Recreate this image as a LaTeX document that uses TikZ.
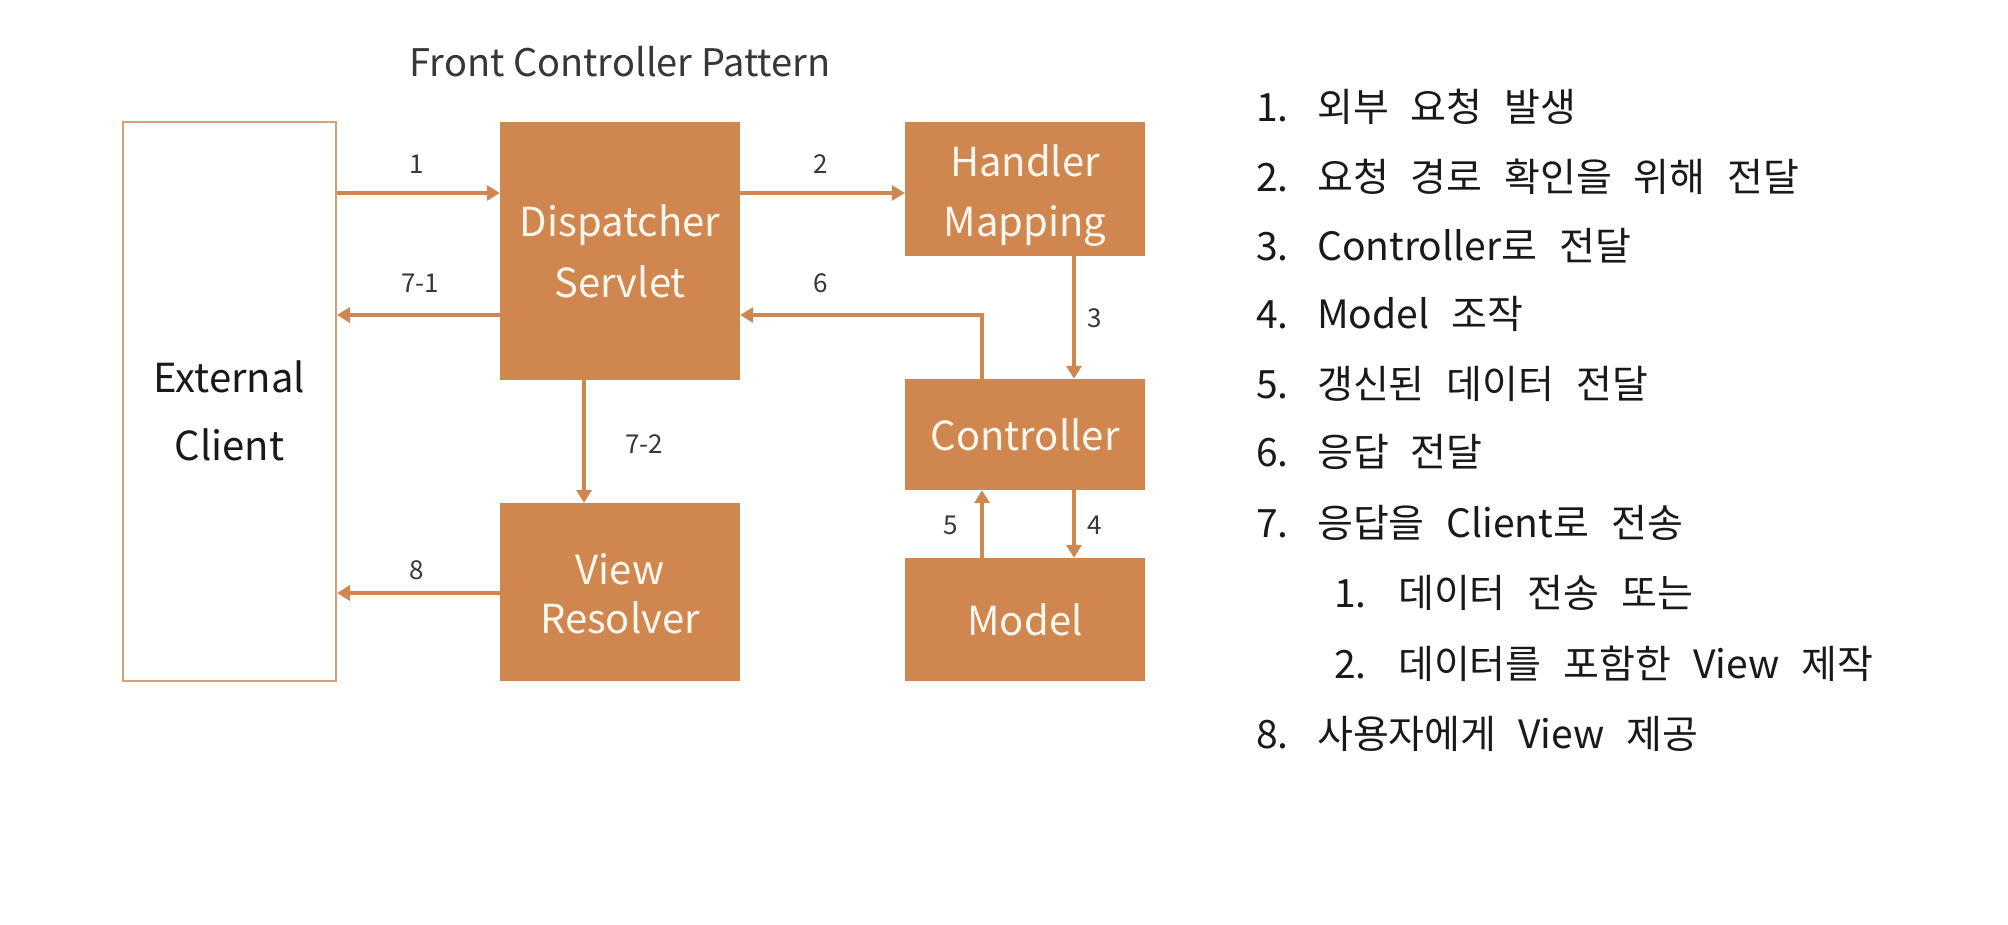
\documentclass[tikz,border=0pt]{standalone}
\usepackage{fontspec}
\setmainfont{Noto Sans CJK KR}
\newfontfamily\listfont[WordSpace=2.5]{Noto Sans CJK KR}
\usetikzlibrary{arrows.meta}
\definecolor{boxc}{RGB}{207,134,79}
\definecolor{boxtext}{RGB}{255,247,238}
\definecolor{lblc}{RGB}{55,55,55}
\definecolor{listc}{RGB}{25,25,25}
\begin{document}
\begin{tikzpicture}[x=1pt,y=-1pt,
  blk/.style={fill=boxc, draw=none, inner sep=0pt, minimum width=240pt},
  blktxt/.style={text=boxtext, font=\fontsize{40}{61}\selectfont, align=center, inner sep=0pt},
  numlbl/.style={text=lblc, font=\fontsize{26}{30}\selectfont, inner sep=0pt},
  arr/.style={draw=boxc, line width=4pt, -{Triangle[length=13pt,width=15pt]}},
  item/.style={anchor=base west, inner sep=0pt, text=listc, font=\listfont\fontsize{39}{44}\selectfont}]
\useasboundingbox[fill=white] (0,0) rectangle (2008,924);

\node[text=lblc, font=\fontsize{38}{44}\selectfont] (title) at (620,62) {Front Controller Pattern};

\node[draw=boxc!80, line width=2pt, minimum width=213pt, minimum height=559pt, inner sep=0pt] (ext) at (229.5,401.5) {};
\node[text=listc, align=center, inner sep=0pt, font=\fontsize{40}{68}\selectfont] (extt) at ([yshift=-9pt]ext.center) {External\\Client};

\node[blk, minimum height=258pt] (disp) at (620,251) {};
\node[blktxt] (dispt) at (disp.center) {Dispatcher\\Servlet};
\node[blk, minimum height=134pt] (hm) at (1025,189) {};
\node[blktxt, font=\fontsize{40}{60}\selectfont] (hmt) at ([yshift=-7pt]hm.center) {Handler\\Mapping};
\node[blk, minimum height=111pt] (ctrl) at (1025,434.5) {};
\node[blktxt] (ctrlt) at (ctrl.center) {Controller};
\node[blk, minimum height=123pt] (model) at (1025,619.5) {};
\node[blktxt] (modelt) at (model.center) {Model};
\node[blk, minimum height=178pt] (view) at (620,592) {};
\node[blktxt, font=\fontsize{40}{49}\selectfont] (viewt) at ([yshift=-2pt]view.center) {View\\Resolver};

\draw[arr] (ext.east |- 0,193) -- (disp.west |- 0,193);
\node[numlbl] (l1) at (417,164) {1};
\draw[arr] (disp.west |- 0,315) -- (ext.east |- 0,315);
\node[numlbl] (l71) at (420,283) {7-1};
\draw[arr] (disp.east |- 0,193) -- (hm.west |- 0,193);
\node[numlbl] (l2) at (821,164) {2};
\draw[arr] (ctrl.north -| 982,0) |- (disp.east |- 0,315);
\node[numlbl] (l6) at (821,283) {6};
\draw[arr] (hm.south -| 1074,0) -- (ctrl.north -| 1074,0);
\node[numlbl] (l3) at (1095,318) {3};
\draw[arr] (disp.south -| 584,0) -- (view.north -| 584,0);
\node[numlbl] (l72) at (644,444) {7-2};
\draw[arr] (view.west |- 0,593) -- (ext.east |- 0,593);
\node[numlbl] (l8) at (417,570) {8};
\draw[arr] (model.north -| 982,0) -- (ctrl.south -| 982,0);
\node[numlbl] (l5) at (951,525) {5};
\draw[arr] (ctrl.south -| 1074,0) -- (model.north -| 1074,0);
\node[numlbl] (l4) at (1095,525) {4};

% list
\node[item] (n1) at (1256,121) {1.};
\node[item] (t1) at (1317,121) {외부 요청 발생};
\node[item] (n2) at (1256,191) {2.};
\node[item] (t2) at (1317,191) {요청 경로 확인을 위해 전달};
\node[item] (n3) at (1256,260) {3.};
\node[item] (t3) at (1317,260) {Controller로 전달};
\node[item] (n4) at (1256,328) {4.};
\node[item] (t4) at (1317,328) {Model 조작};
\node[item] (n5) at (1256,398) {5.};
\node[item] (t5) at (1317,398) {갱신된 데이터 전달};
\node[item] (n6) at (1256,466) {6.};
\node[item] (t6) at (1317,466) {응답 전달};
\node[item] (n7) at (1256,537) {7.};
\node[item] (t7) at (1317,537) {응답을 Client로 전송};
\node[item] (n71) at (1334,607) {1.};
\node[item] (t71) at (1398,607) {데이터 전송 또는};
\node[item] (n72) at (1334,678) {2.};
\node[item] (t72) at (1398,678) {데이터를 포함한 View 제작};
\node[item] (n8) at (1256,748) {8.};
\node[item] (t8) at (1317,748) {사용자에게 View 제공};
\end{tikzpicture}
\end{document}
